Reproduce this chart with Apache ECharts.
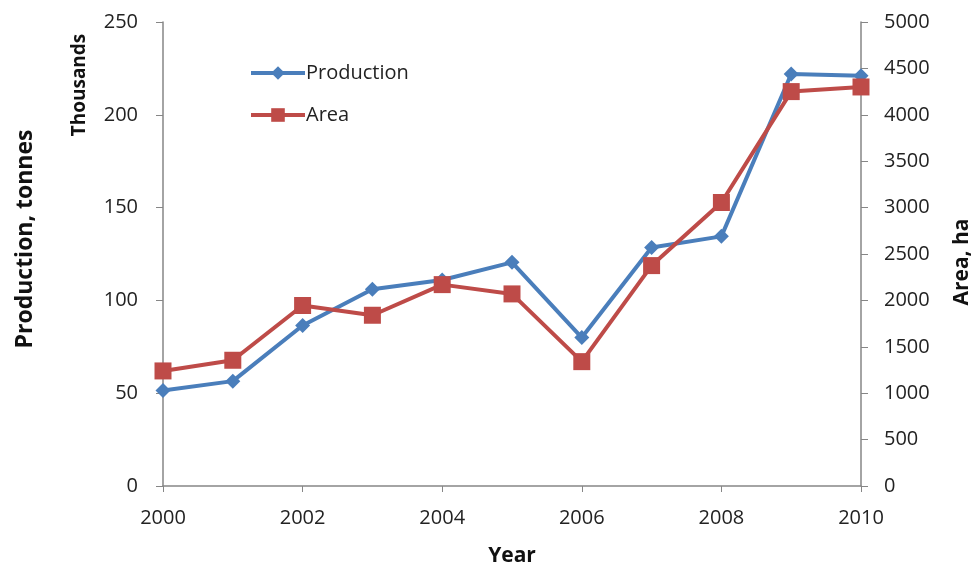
<!DOCTYPE html>
<html><head><meta charset="utf-8">
<script src="https://cdn.jsdelivr.net/npm/echarts@6/dist/echarts.min.js"></script>
<style>html,body{margin:0;padding:0;background:#fff}#c{width:976px;height:565px}</style>
</head><body><div id="c"></div>
<script>
const years = [2000, 2001, 2002, 2003, 2004, 2005, 2006, 2007, 2008, 2009, 2010];
const production = [51.5, 56.5, 86.5, 106, 111, 120.5, 80, 128.5, 134.5, 222, 221];
const area = [1240, 1355, 1945, 1840, 2170, 2070, 1340, 2375, 3055, 4250, 4300];
const leftTicks = [0, 50, 100, 150, 200, 250];
const rightTicks = [0, 500, 1000, 1500, 2000, 2500, 3000, 3500, 4000, 4500, 5000];

const font = 'Open Sans, DejaVu Sans, sans-serif';
const axisCol = '#868686';
const plain = v => String(v);
const chart = echarts.init(document.getElementById('c'));
chart.setOption({
  animation: false,
  backgroundColor: '#fff',
  grid: {left: 163, right: 115, top: 22, bottom: 79, containLabel: false, outerBoundsMode: 'none'},
  legend: {
    left: 244, top: 58, orient: 'vertical', itemGap: 22, itemWidth: 54, itemHeight: 17,
    textStyle: {fontFamily: font, fontSize: 20, color: '#222', padding: [0,0,0,-4]},
    data: [
      {name: 'Production', lineStyle: {width: 4}},
      {name: 'Area', lineStyle: {width: 4}}
    ]
  },
  xAxis: {
    type: 'value', min: 2000, max: 2010, interval: 2,
    name: 'Year', nameLocation: 'middle', nameGap: 60,
    nameTextStyle: {fontFamily: font, fontSize: 21, fontWeight: 'bold', color: '#111'},
    axisLine: {lineStyle: {color: axisCol, width: 1.5}},
    axisTick: {inside: false, length: 6, lineStyle: {color: axisCol}},
    axisLabel: {fontFamily: font, fontSize: 20, color: '#222', margin: 22, formatter: plain},
    splitLine: {show: false}
  },
  yAxis: [{
    type: 'value', min: 0, max: 250, interval: 50,
    axisLine: {show: true, lineStyle: {color: axisCol, width: 1.5}},
    axisTick: {show: true, length: 7, lineStyle: {color: axisCol}},
    axisLabel: {fontFamily: font, fontSize: 20, color: '#222', margin: 25, formatter: plain},
    splitLine: {show: false}
  }, {
    type: 'value', min: 0, max: 5000, interval: 500, position: 'right',
    axisLine: {show: true, lineStyle: {color: axisCol, width: 1.5}},
    axisTick: {show: true, length: 7, lineStyle: {color: axisCol}},
    axisLabel: {fontFamily: font, fontSize: 20, color: '#222', margin: 23, formatter: plain},
    splitLine: {show: false}
  }],
  graphic: [
    {type: 'text', x: 25, y: 239, rotation: Math.PI/2, style: {text: 'Production, tonnes', font: 'bold 23px ' + font, fill: '#111', align: 'center', verticalAlign: 'middle'}},
    {type: 'text', x: 80, y: 85, rotation: Math.PI/2, style: {text: 'Thousands', font: 'bold 19px ' + font, fill: '#111', align: 'center', verticalAlign: 'middle'}},
    {type: 'text', x: 962, y: 262, rotation: Math.PI/2, style: {text: 'Area, ha', font: 'bold 21px ' + font, fill: '#111', align: 'center', verticalAlign: 'middle'}}
  ],
  series: [{
    name: 'Production', type: 'line', yAxisIndex: 0,
    data: years.map((y, i) => [y, production[i]]),
    symbol: 'diamond', symbolSize: 15,
    lineStyle: {color: '#4a7ebb', width: 4},
    itemStyle: {color: '#4a7ebb'}
  }, {
    name: 'Area', type: 'line', yAxisIndex: 1,
    data: years.map((y, i) => [y, area[i]]),
    symbol: 'rect', symbolSize: 17,
    lineStyle: {color: '#be4b48', width: 4},
    itemStyle: {color: '#be4b48'}
  }]
});
</script></body></html>
